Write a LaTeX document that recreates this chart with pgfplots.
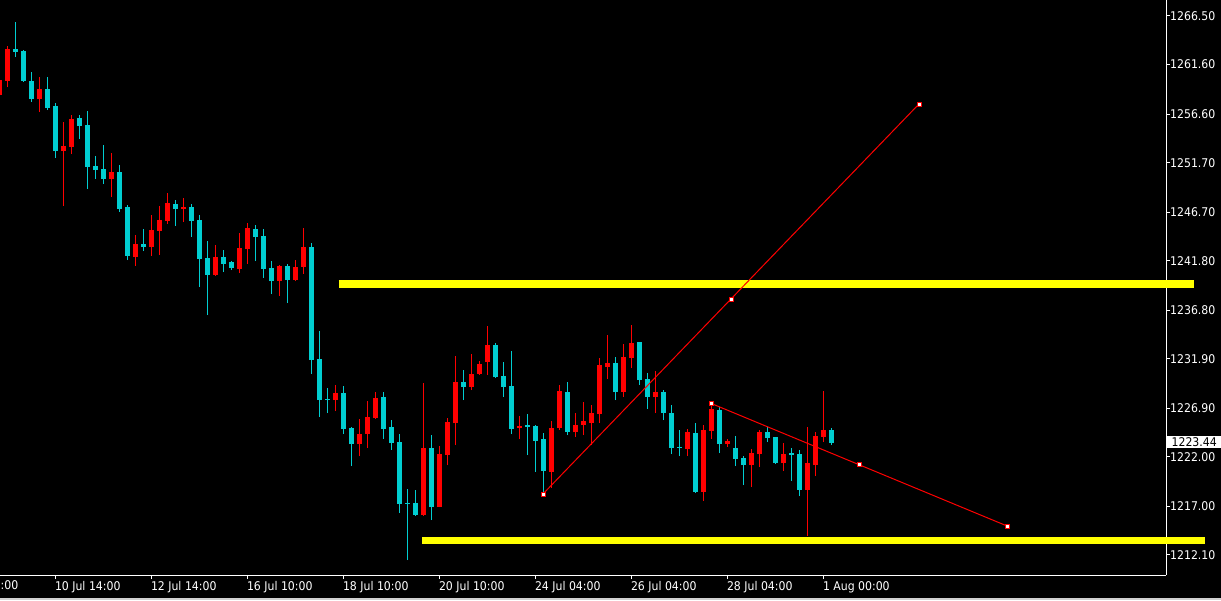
\documentclass[border=0pt]{standalone}
\usepackage{pgfplots}
\pgfplotsset{compat=1.18}
\usepackage{pgfplotstable}
\usepackage{fontspec}
\setmainfont{DejaVu Sans}
\newfontfamily\axfont[FakeStretch=0.91]{DejaVu Sans}
\definecolor{bull}{RGB}{255,0,0}
\definecolor{bear}{RGB}{0,206,209}
\definecolor{lvl}{RGB}{255,255,0}
\pgfplotstableread{
x o h l c
-1 1258.53 1260.24 1258.32 1260.04
0 1259.94 1263.47 1259.33 1263.17
4 1258.12 1260.34 1256.81 1259.13
7 1252.87 1255.80 1247.32 1253.38
8 1253.28 1256.51 1252.57 1256.10
13 1250.05 1252.67 1248.23 1250.76
16 1242.18 1244.40 1241.27 1243.49
18 1243.19 1246.42 1242.28 1244.90
19 1244.80 1247.32 1242.38 1245.91
20 1245.81 1248.64 1245.51 1247.63
22 1247.02 1248.13 1245.71 1247.22
26 1240.36 1243.39 1240.26 1242.18
29 1240.97 1244.60 1240.56 1243.08
30 1242.98 1245.61 1241.47 1245.10
34 1239.75 1241.37 1238.24 1241.27
36 1239.86 1241.87 1239.75 1241.17
37 1241.17 1245.10 1240.46 1243.19
41 1227.74 1229.26 1226.63 1228.45
44 1223.30 1225.83 1222.09 1224.31
45 1224.31 1227.64 1222.90 1226.03
46 1225.93 1228.55 1225.83 1227.95
52 1216.14 1229.46 1216.04 1222.90
54 1216.94 1223.10 1216.94 1222.29
55 1222.19 1225.93 1221.18 1225.52
56 1225.42 1232.18 1223.20 1229.56
58 1229.06 1232.39 1228.75 1230.37
59 1230.37 1231.68 1230.27 1231.38
60 1231.58 1235.21 1230.27 1233.29
64 1224.92 1226.13 1223.81 1225.12
68 1220.48 1225.62 1218.86 1224.92
69 1224.92 1229.26 1224.72 1228.65
71 1224.51 1226.43 1224.01 1225.22
72 1225.22 1227.54 1224.21 1225.62
73 1225.42 1227.24 1223.20 1226.43
74 1226.33 1231.98 1225.42 1231.28
75 1231.07 1234.30 1229.86 1231.48
77 1228.55 1233.40 1228.05 1232.08
78 1231.98 1235.31 1230.97 1233.50
81 1228.05 1230.67 1226.43 1228.55
85 1222.80 1224.82 1222.09 1224.51
87 1218.46 1225.22 1217.55 1224.72
88 1224.61 1227.34 1223.81 1226.84
90 1223.30 1223.81 1223.00 1223.61
93 1221.18 1222.80 1218.96 1222.39
94 1222.29 1224.72 1220.98 1224.51
97 1221.38 1223.40 1220.58 1222.29
100 1218.66 1225.02 1214.02 1221.38
101 1221.18 1224.51 1220.07 1224.11
102 1224.01 1228.65 1223.50 1224.72
}\bulltab
\pgfplotstableread{
x o h l c
1 1263.17 1265.89 1262.36 1262.87
2 1262.97 1263.07 1259.84 1259.94
3 1259.94 1260.85 1257.82 1258.12
5 1259.13 1260.34 1257.01 1257.21
6 1257.42 1257.72 1252.17 1252.87
9 1256.21 1256.51 1254.09 1255.40
10 1255.50 1256.91 1249.04 1251.26
11 1251.36 1252.37 1250.05 1250.96
12 1251.06 1253.48 1249.54 1250.05
14 1250.76 1251.46 1246.72 1247.02
15 1247.22 1247.42 1241.87 1242.28
17 1243.49 1245.00 1242.78 1243.19
21 1247.53 1247.93 1245.31 1247.02
23 1247.22 1247.53 1244.20 1245.81
24 1245.91 1246.42 1239.15 1241.97
25 1242.08 1243.79 1236.32 1240.36
27 1242.18 1242.88 1240.66 1241.47
28 1241.67 1241.77 1240.86 1241.07
31 1245.00 1245.41 1241.77 1244.20
32 1244.30 1245.00 1240.06 1240.97
33 1241.07 1241.77 1238.44 1239.75
35 1241.27 1241.47 1237.53 1239.86
38 1243.19 1243.59 1230.37 1231.78
39 1231.88 1234.71 1226.03 1227.74
40 1227.84 1228.95 1226.43 1227.74
42 1228.45 1229.16 1224.31 1224.82
43 1224.92 1225.02 1221.08 1223.30
47 1228.05 1228.55 1223.81 1224.82
48 1225.02 1225.72 1222.70 1223.40
49 1223.50 1224.31 1216.34 1217.25
50 1217.35 1218.76 1211.59 1217.25
51 1217.35 1218.66 1216.04 1216.14
53 1222.90 1224.21 1215.63 1216.94
57 1229.56 1230.77 1227.74 1229.06
61 1233.29 1233.50 1229.96 1230.06
62 1230.17 1231.58 1228.05 1229.06
63 1229.16 1232.69 1224.31 1224.82
65 1225.22 1226.33 1222.19 1225.02
66 1225.12 1225.22 1220.48 1223.61
67 1223.81 1224.41 1218.46 1220.58
70 1228.55 1229.56 1224.21 1224.51
76 1231.48 1232.08 1227.74 1228.55
79 1233.60 1233.60 1229.26 1229.76
80 1229.86 1230.47 1226.84 1228.05
82 1228.55 1228.75 1225.72 1226.43
83 1226.43 1227.24 1222.29 1222.90
84 1223.00 1224.72 1222.09 1222.90
86 1224.41 1225.42 1218.36 1218.46
89 1226.73 1227.04 1222.39 1223.30
91 1222.90 1224.11 1221.08 1221.79
92 1221.89 1222.09 1219.16 1221.18
95 1224.51 1225.02 1223.50 1223.91
96 1224.01 1224.01 1221.28 1221.38
98 1222.39 1222.90 1219.57 1222.19
99 1222.29 1222.70 1218.05 1218.66
103 1224.72 1224.92 1223.20 1223.44
}\beartab
\begin{document}
\begin{tikzpicture}
\useasboundingbox (0,0) rectangle (1221pt,600pt);
\fill[black] (0,0) rectangle (1221pt,600pt);
\fill[black!18] (0,0) rectangle (1221pt,2.5pt);
\begin{axis}[
  at={(0pt,25pt)}, anchor=south west,
  scale only axis, width=1166pt, height=575pt,
  xmin=-0.9125, xmax=144.8375, ymin=1210.08, ymax=1268.115,
  clip=false,
  axis x line*=bottom, axis y line*=right,
  axis line style={white, line width=1pt},
  tick style={white, line width=1pt},
  tick align=outside, major tick length=4pt,
  xtick={6,18,30,42,54,66,78,90,102},
  xticklabels={10 Jul 14:00, 12 Jul 14:00, 16 Jul 10:00, 18 Jul 10:00, 20 Jul 10:00, 24 Jul 04:00, 26 Jul 04:00, 28 Jul 04:00, 1 Aug 00:00},
  ytick={1212.1,1217.0,1222.0,1226.9,1231.9,1236.8,1241.8,1246.7,1251.7,1256.6,1261.6,1266.5},
  yticklabels={1212.10,1217.00,1222.00,1226.90,1231.90,1236.80,1241.80,1246.70,1251.70,1256.60,1261.60,1266.50},
  ticklabel style={text=white, font=\axfont\fontsize{12}{13}\selectfont, inner sep=0pt},
  xticklabel style={anchor=north west, xshift=-0.5pt, yshift=-2pt},
  yticklabel style={anchor=west},
]
% wicks
\addplot[draw=none, mark=none, forget plot, error bars/.cd, y dir=plus, y explicit, error mark=none,
  error bar style={draw=bear, line width=1pt}]
  table[x=x, y=l, y error plus expr=\thisrow{h}-\thisrow{l}] {\beartab};
\addplot[draw=none, mark=none, forget plot, error bars/.cd, y dir=plus, y explicit, error mark=none,
  error bar style={draw=bull, line width=1pt}]
  table[x=x, y=l, y error plus expr=\thisrow{h}-\thisrow{l}] {\bulltab};
% bodies
\addplot[draw=none, mark=none, forget plot, error bars/.cd, y dir=plus, y explicit, error mark=none,
  error bar style={draw=bear, line width=5pt}]
  table[x=x, y=c, y error plus expr=\thisrow{o}-\thisrow{c}] {\beartab};
\addplot[draw=none, mark=none, forget plot, error bars/.cd, y dir=plus, y explicit, error mark=none,
  error bar style={draw=bull, line width=5pt}]
  table[x=x, y=o, y error plus expr=\thisrow{c}-\thisrow{o}] {\bulltab};
% horizontal levels
\addplot[lvl, line width=7.5pt, forget plot] coordinates {(41.46,1239.45) (148.34,1239.45)};
\addplot[lvl, line width=7pt, forget plot] coordinates {(51.84,1213.56) (149.71,1213.56)};
% trend lines
\addplot[red, line width=1pt, mark=square*, mark size=2pt, mark options={fill=white, draw=red, line width=0.8pt}]
  coordinates {(66.96,1218.26) (90.46,1237.94) (113.96,1257.62)};
\addplot[red, line width=1pt, mark=square*, mark size=2pt, mark options={fill=white, draw=red, line width=0.8pt}]
  coordinates {(88.0,1227.39) (106.48,1221.21) (124.96,1215.03)};
% current price label
\node[fill=white, text=black, anchor=west, inner sep=0pt, minimum width=56pt, minimum height=12.5pt,
  xshift=0pt, yshift=0.8pt, font=\axfont\fontsize{12}{13}\selectfont] at (axis cs:144.8375,1223.44) {1223.44};
\end{axis}
\node[anchor=north west, text=white, inner sep=0pt, font=\axfont\fontsize{12}{13}\selectfont] at (0.5pt,19.4pt) {:00};
\end{tikzpicture}
\end{document}
